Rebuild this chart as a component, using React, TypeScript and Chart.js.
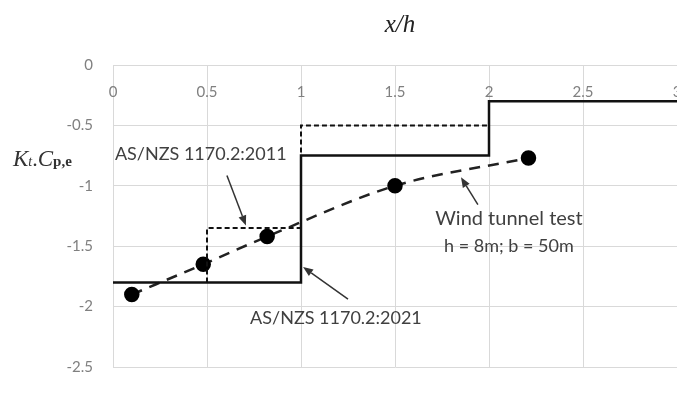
import React, { useEffect, useRef } from "react";
import { Chart, registerables } from "chart.js";

Chart.register(...registerables);

// x/h tick labels (drawn along the top axis, inside the plot)
const xTickValues = [0, 0.5, 1, 1.5, 2, 2.5, 3];
const xTickLabels = ["0", "0.5", "1", "1.5", "2", "2.5", "3"];

// AS/NZS 1170.2:2021 (solid step)
const std2021X = [0, 1, 1, 2, 2, 3];
const std2021Y = [-1.8, -1.8, -0.75, -0.75, -0.3, -0.3];

// AS/NZS 1170.2:2011 (short-dashed step)
const std2011X = [0.5, 0.5, 1, 1, 2, 2];
const std2011Y = [-1.8, -1.35, -1.35, -0.5, -0.5, -0.75];

// Wind tunnel test points
const windX = [0.1, 0.48, 0.82, 1.5, 2.21];
const windY = [-1.9, -1.65, -1.42, -1.0, -0.77];

const zip = (xs: number[], ys: number[]) => xs.map((x, i) => ({ x, y: ys[i] }));

const TEXT_COLOR = "#404040";
const SANS = "Lato, 'Open Sans', sans-serif";
const SERIF = "'Liberation Serif', 'DejaVu Serif', serif";

function arrow(ctx: CanvasRenderingContext2D, x1: number, y1: number, x2: number, y2: number) {
  const ang = Math.atan2(y2 - y1, x2 - x1);
  const len = 10;
  const w = 4;
  const bx = x2 - len * Math.cos(ang);
  const by = y2 - len * Math.sin(ang);
  ctx.save();
  ctx.strokeStyle = "#333";
  ctx.fillStyle = "#333";
  ctx.lineWidth = 1.5;
  ctx.setLineDash([]);
  ctx.beginPath();
  ctx.moveTo(x1, y1);
  ctx.lineTo(bx, by);
  ctx.stroke();
  ctx.beginPath();
  ctx.moveTo(x2, y2);
  ctx.lineTo(bx + w * Math.sin(ang), by - w * Math.cos(ang));
  ctx.lineTo(bx - w * Math.sin(ang), by + w * Math.cos(ang));
  ctx.closePath();
  ctx.fill();
  ctx.restore();
}

const decorPlugin = {
  id: "decor",
  afterDraw(chart: any) {
    const ctx: CanvasRenderingContext2D = chart.ctx;
    const xs = chart.scales.x;
    const ys = chart.scales.y;
    const px = (v: number) => xs.getPixelForValue(v);
    const py = (v: number) => ys.getPixelForValue(v);
    const area = chart.chartArea;
    ctx.save();

    // x tick labels inside the plot under the top border
    ctx.fillStyle = "#808080";
    ctx.font = `15px ${SANS}`;
    ctx.textAlign = "center";
    ctx.textBaseline = "middle";
    xTickValues.forEach((v, i) => {
      ctx.fillText(xTickLabels[i], px(v), area.top + 27);
    });

    // title x/h
    ctx.fillStyle = "#222";
    ctx.font = `italic 25px ${SERIF}`;
    ctx.textAlign = "center";
    ctx.textBaseline = "alphabetic";
    ctx.fillText("x/h", 400, 32);

    // y title Kt.Cp,e
    const parts: [string, string][] = [
      ["K", `italic 23px ${SERIF}`],
      ["t", `italic 14px ${SERIF}`],
      [".", `22px ${SERIF}`],
      ["C", `italic 23px ${SERIF}`],
      ["p,e", `bold 15px ${SERIF}`],
    ];
    let cx = 13;
    ctx.textAlign = "left";
    ctx.fillStyle = "#333";
    parts.forEach(([t, f]) => {
      ctx.font = f;
      ctx.fillText(t, cx, 166);
      cx += ctx.measureText(t).width;
    });

    // annotations
    ctx.fillStyle = TEXT_COLOR;
    ctx.textBaseline = "middle";
    ctx.font = `18px ${SANS}`;
    ctx.textAlign = "left";
    ctx.fillText("AS/NZS 1170.2:2011", px(0.01), py(-0.742));
    ctx.fillText("AS/NZS 1170.2:2021", px(0.729), py(-2.094));
    ctx.textAlign = "center";
    ctx.font = `20px ${SANS}`;
    ctx.fillText("Wind tunnel test", px(2.106), py(-1.273));
    ctx.font = `18px ${SANS}`;
    ctx.fillText("h = 8m; b = 50m", px(2.106), py(-1.5));

    arrow(ctx, px(0.606), py(-0.914), px(0.707), py(-1.328));
    arrow(ctx, px(1.25), py(-1.9375), px(1.011), py(-1.672));
    arrow(ctx, px(1.941), py(-1.156), px(1.851), py(-0.93));

    ctx.restore();
  },
};

export default function App() {
  const ref = useRef<HTMLCanvasElement | null>(null);
  useEffect(() => {
    document.body.style.margin = "0";
    if (!ref.current) return;
    const chart = new Chart(ref.current, {
      type: "scatter",
      data: {
        datasets: [
          {
            label: "AS/NZS 1170.2:2021",
            data: zip(std2021X, std2021Y),
            showLine: true,
            borderColor: "#111",
            borderWidth: 2.5,
            pointRadius: 0,
            tension: 0,
          },
          {
            label: "AS/NZS 1170.2:2011",
            data: zip(std2011X, std2011Y),
            showLine: true,
            borderColor: "#111",
            borderWidth: 2,
            borderDash: [5, 3],
            pointRadius: 0,
            tension: 0,
          },
          {
            label: "Wind tunnel test",
            data: zip(windX, windY),
            showLine: true,
            borderColor: "#222",
            borderWidth: 2.5,
            borderDash: [11, 8],
            pointRadius: 6.5,
            pointBackgroundColor: "#000",
            pointBorderColor: "#000",
            cubicInterpolationMode: "monotone",
          } as any,
        ],
      },
      options: {
        animation: false,
        responsive: false,
        layout: { autoPadding: false, padding: { top: 65, bottom: 11, left: 0, right: 0 } },
        plugins: {
          legend: { display: false },
          tooltip: { enabled: false },
        },
        scales: {
          x: {
            type: "linear",
            position: "top",
            min: 0,
            max: 3,
            ticks: { display: false, stepSize: 0.5 },
            grid: { color: "#d9d9d9", drawTicks: false },
            border: { color: "#d9d9d9" },
          },
          y: {
            type: "linear",
            min: -2.5,
            max: 0,
            ticks: {
              stepSize: 0.5,
              color: "#808080",
              padding: 20,
              font: { family: SANS, size: 15 },
              callback: (v: any) => `${v}`,
            },
            grid: { color: "#d9d9d9", drawTicks: false },
            border: { color: "#d9d9d9" },
            afterFit: (s: any) => {
              s.width = 113;
            },
          },
        },
      },
      plugins: [decorPlugin],
    });
    return () => chart.destroy();
  }, []);
  return (
    <div style={{ position: "absolute", left: 0, top: 0, width: 677, height: 396 }}>
      <canvas ref={ref} width={677} height={396} />
    </div>
  );
}
